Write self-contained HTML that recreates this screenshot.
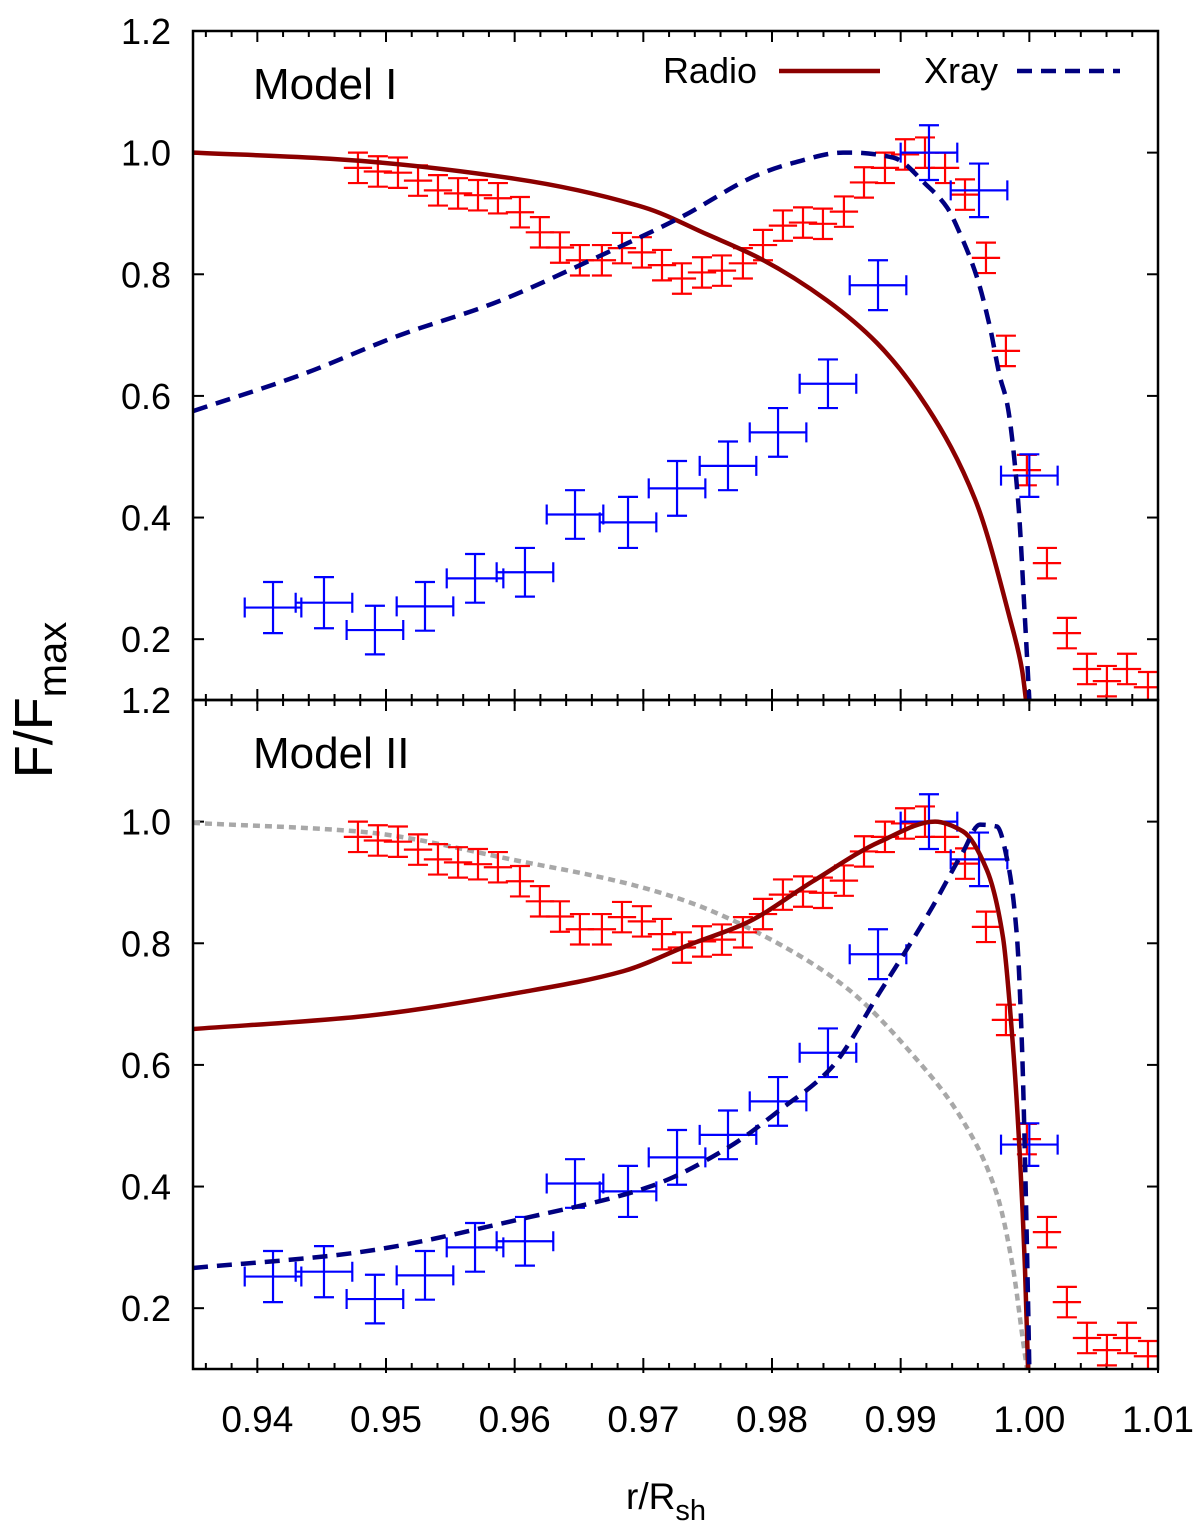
<!DOCTYPE html>
<html><head><meta charset="utf-8"><style>
body{margin:0;background:#fff}
svg{display:block}
text{font-family:"Liberation Sans","DejaVu Sans",sans-serif;fill:#000}
</style></head><body>
<svg id="chart" width="1200" height="1538" viewBox="0 0 1200 1538" xmlns="http://www.w3.org/2000/svg"></svg>
<script>
// ---- data ----
const xTicks = [0.94,0.95,0.96,0.97,0.98,0.99,1.00,1.01];
const xTickLabels = ["0.94","0.95","0.96","0.97","0.98","0.99","1.00","1.01"];
const yTicks = [1.2,1.0,0.8,0.6,0.4,0.2];
const yTickLabels = ["1.2","1.0","0.8","0.6","0.4","0.2"];
const radioX = [0.94782,0.94937,0.95093,0.95249,0.95404,0.9556,0.95715,0.9587,0.96041,0.96196,0.96352,0.96507,0.96678,0.96834,0.96989,0.97145,0.973,0.97456,0.97611,0.97774,0.9793,0.98085,0.98241,0.98396,0.98559,0.98715,0.98878,0.99034,0.99189,0.99345,0.995,0.99663,0.99818,0.99981,1.00137,1.00292,1.00448,1.00603,1.00759,1.00922];
const radioY = [0.975,0.969,0.967,0.954,0.938,0.933,0.930,0.925,0.902,0.869,0.844,0.823,0.823,0.843,0.836,0.815,0.793,0.803,0.806,0.818,0.848,0.880,0.885,0.883,0.903,0.951,0.975,0.997,1.0,0.975,0.931,0.827,0.674,0.478,0.325,0.210,0.151,0.131,0.151,0.121];
const radioYErr = 0.025;
const radioXErr = 0.0011;
const xrayX = [0.94122,0.94518,0.94914,0.95303,0.95692,0.9608,0.96469,0.96881,0.97262,0.97658,0.98047,0.98435,0.98824,0.9922,0.99609,1.0];
const xrayY = [0.252,0.26,0.215,0.254,0.30,0.31,0.405,0.392,0.448,0.485,0.54,0.62,0.782,1.0,0.938,0.469];
const xrayYErr = [0.042,0.042,0.04,0.04,0.04,0.04,0.04,0.042,0.045,0.04,0.04,0.04,0.041,0.045,0.044,0.035];
const xrayXErr = 0.0022;
// model I curves
const m1RadioX = [0.935,0.94565,0.96003,0.97005,0.97502,0.97907,0.98427,0.98816,0.99205,0.99578,0.9985,0.99943,0.99974];
const m1RadioY = [1.0,0.99,0.957,0.91,0.865,0.826,0.757,0.687,0.582,0.43,0.233,0.15,0.1];
const m1XrayX = [0.935,0.94332,0.95109,0.95832,0.9664,0.97285,0.97907,0.98163,0.98552,0.98629,0.9894,0.99205,0.9936,0.99461,0.99593,0.99694,0.99772,0.99826,0.99912,0.99966,1.0];
const m1XrayY = [0.575,0.634,0.70,0.752,0.828,0.893,0.965,0.983,1.0,1.0,0.992,0.946,0.91,0.867,0.795,0.713,0.631,0.589,0.43,0.233,0.1];
// model II curves
const m2RadioX = [0.935,0.94775,0.96065,0.96842,0.97363,0.97806,0.98318,0.98839,0.99267,0.99484,0.99671,0.99795,0.99873,0.99927,0.99966,0.9999];
const m2RadioY = [0.659,0.679,0.72,0.754,0.798,0.834,0.902,0.967,1.0,0.984,0.92,0.81,0.63,0.448,0.266,0.1];
const m2XrayX = [0.935,0.9472,0.9612,0.97052,0.97673,0.98062,0.98451,0.98839,0.99228,0.99484,0.99616,0.99748,0.99834,0.99904,0.99943,0.99966,0.9999,1.0];
const m2XrayY = [0.266,0.29,0.35,0.40,0.466,0.526,0.593,0.72,0.853,0.95,0.995,0.992,0.931,0.81,0.63,0.448,0.211,0.1];
const m2GrayX = [0.935,0.94775,0.96065,0.96842,0.97363,0.98062,0.98583,0.99096,0.99484,0.99748,0.99873,0.99951,0.99982];
const m2GrayY = [0.998,0.984,0.934,0.90,0.867,0.798,0.726,0.616,0.508,0.387,0.266,0.146,0.1];

// ---- layout ----
const NS = "http://www.w3.org/2000/svg";
const svg = document.getElementById('chart');
const L = 193, R = 1158, X0 = 0.935, X1 = 1.01;
const Y0 = 0.1, Y1 = 1.2;
const xs = v => L + (v - X0) / (X1 - X0) * (R - L);
function mk(tag, attrs, parent) {
  const e = document.createElementNS(NS, tag);
  for (const k in attrs) e.setAttribute(k, attrs[k]);
  (parent || svg).appendChild(e);
  return e;
}
// monotone cubic (Fritsch-Carlson) smoothing in pixel space
function smoothPath(px, py) {
  const n = px.length;
  const d = [], m = new Array(n);
  for (let i = 0; i < n - 1; i++) d.push((py[i+1]-py[i])/(px[i+1]-px[i]));
  m[0] = d[0]; m[n-1] = d[n-2];
  for (let i = 1; i < n - 1; i++) {
    if (d[i-1]*d[i] <= 0) m[i] = 0;
    else {
      const h0 = px[i]-px[i-1], h1 = px[i+1]-px[i];
      const w1 = 2*h1+h0, w2 = h1+2*h0;
      m[i] = (w1+w2)/(w1/d[i-1]+w2/d[i]);
    }
  }
  let s = 'M' + px[0].toFixed(1) + ' ' + py[0].toFixed(1);
  for (let i = 0; i < n - 1; i++) {
    const h = (px[i+1]-px[i])/3;
    s += ' C' + (px[i]+h).toFixed(2) + ' ' + (py[i]+m[i]*h).toFixed(2) + ' ' +
         (px[i+1]-h).toFixed(2) + ' ' + (py[i+1]-m[i+1]*h).toFixed(2) + ' ' +
         px[i+1].toFixed(2) + ' ' + py[i+1].toFixed(2);
  }
  return s;
}

function panel(top, bottom, idx, title, curves) {
  const ys = v => bottom - (v - Y0) / (Y1 - Y0) * (bottom - top);
  const curvePath = c => smoothPath(c[0].map(xs), c[1].map(ys));
  const g = mk('g', {});
  
  
  const clipId = 'clip' + idx;
  const cp = mk('clipPath', {id: clipId}, g);
  mk('rect', {x: L, y: top, width: R - L, height: bottom - top}, cp);
  const tk = mk('g', {stroke: '#000', 'stroke-width': 2}, g);
  
  
  for (let v = 0.936; v < 1.0105; v += 0.002) {
    const x = xs(v);
    const major = xTicks.some(t => Math.abs(t - v) < 1e-6);
    const len = major ? 11 : 6;
    mk('line', {x1: x, y1: bottom, x2: x, y2: bottom - len}, tk);
    mk('line', {x1: x, y1: top, x2: x, y2: top + len}, tk);
    if (major) mk('line', {x1: x, y1: bottom, x2: x, y2: bottom + 4}, tk);
  }
  yTicks.forEach((t, i) => {
    const y = ys(t);
    mk('line', {x1: L, y1: y, x2: L + 11, y2: y}, tk);
    mk('line', {x1: R, y1: y, x2: R - 11, y2: y}, tk);
    const lbl = mk('text', {x: 171, y: y + 13, 'font-size': 36, 'text-anchor': 'end'}, g);
    lbl.textContent = yTickLabels[i];
    
    
  });
  const data = mk('g', {'clip-path': 'url(#' + clipId + ')'}, g);
  if (curves.gray) {
    const p = mk('path', {d: curvePath(curves.gray), fill: 'none', stroke: '#a8a8a8', 'stroke-width': 4.5, 'stroke-dasharray': '7 5'}, data);
    
    
  }
  const rg = mk('g', {stroke: '#ff0000', 'stroke-width': 2.2, fill: 'none'}, data);
  
  
  radioX.forEach((xv, i) => {
    const x = xs(xv), y = ys(radioY[i]), y1 = ys(radioY[i] + radioYErr), y2 = ys(radioY[i] - radioYErr);
    const xl = xs(xv - radioXErr), xr = xs(xv + radioXErr);
    const e = mk('path', {d: `M${xl} ${y}H${xr}M${x} ${y1}V${y2}M${x-10} ${y1}H${x+10}M${x-10} ${y2}H${x+10}`}, rg);
    
    
  });
  const bg = mk('g', {stroke: '#0000ff', 'stroke-width': 2.2, fill: 'none'}, data);
  
  
  xrayX.forEach((xv, i) => {
    const x = xs(xv), y = ys(xrayY[i]), y1 = ys(xrayY[i] + xrayYErr[i]), y2 = ys(xrayY[i] - xrayYErr[i]);
    const xl = xs(xv - xrayXErr), xr = xs(xv + xrayXErr);
    const e = mk('path', {d: `M${xl} ${y}H${xr}M${xl} ${y-10}V${y+10}M${xr} ${y-10}V${y+10}M${x} ${y1}V${y2}M${x-10} ${y1}H${x+10}M${x-10} ${y2}H${x+10}`}, bg);
    
    
  });
  const rc = mk('path', {d: curvePath(curves.radio), fill: 'none', stroke: '#8b0000', 'stroke-width': 4.5, 'stroke-linejoin': 'round'}, data);
  
  
  const xc = mk('path', {d: curvePath(curves.xray), fill: 'none', stroke: '#000080', 'stroke-width': 4.5, 'stroke-dasharray': '15 9'}, data);
  
  
  const fr = mk('rect', {x: L, y: top, width: R - L, height: bottom - top, fill: 'none', stroke: '#000', 'stroke-width': 2.5}, g);
  
  
  const t = mk('text', {x: 253, y: top + 68, 'font-size': 44}, g);
  t.textContent = title;
  
  
  return ys;
}

panel(31, 700, 1, 'Model I', {radio: [m1RadioX, m1RadioY], xray: [m1XrayX, m1XrayY]});
panel(700, 1369, 2, 'Model II', {radio: [m2RadioX, m2RadioY], xray: [m2XrayX, m2XrayY], gray: [m2GrayX, m2GrayY]});

xTicks.forEach((t, i) => {
  const el = mk('text', {x: xs(t), y: 1432, 'font-size': 37, 'text-anchor': 'middle'});
  el.textContent = xTickLabels[i];
  
  
});
const lg = mk('g', {});


const lr = mk('text', {x: 757, y: 83, 'font-size': 36, 'text-anchor': 'end'}, lg);
lr.textContent = 'Radio';


const ll = mk('line', {x1: 779, y1: 71, x2: 880, y2: 71, stroke: '#8b0000', 'stroke-width': 4.5}, lg);


const lx = mk('text', {x: 998, y: 83, 'font-size': 36, 'text-anchor': 'end'}, lg);
lx.textContent = 'Xray';


const lxl = mk('line', {x1: 1017, y1: 71, x2: 1120, y2: 71, stroke: '#000080', 'stroke-width': 4.5, 'stroke-dasharray': '15 9'}, lg);


const yt = mk('text', {x: 0, y: 0, 'font-size': 54, 'text-anchor': 'middle', transform: 'translate(52,700) rotate(-90)'});
yt.innerHTML = 'F/F<tspan font-size="40" dy="14">max</tspan>';


const xt = mk('text', {x: 666, y: 1509, 'font-size': 37, 'text-anchor': 'middle'});
xt.innerHTML = 'r/R<tspan font-size="29" dy="11">sh</tspan>';


</script>
</body></html>
